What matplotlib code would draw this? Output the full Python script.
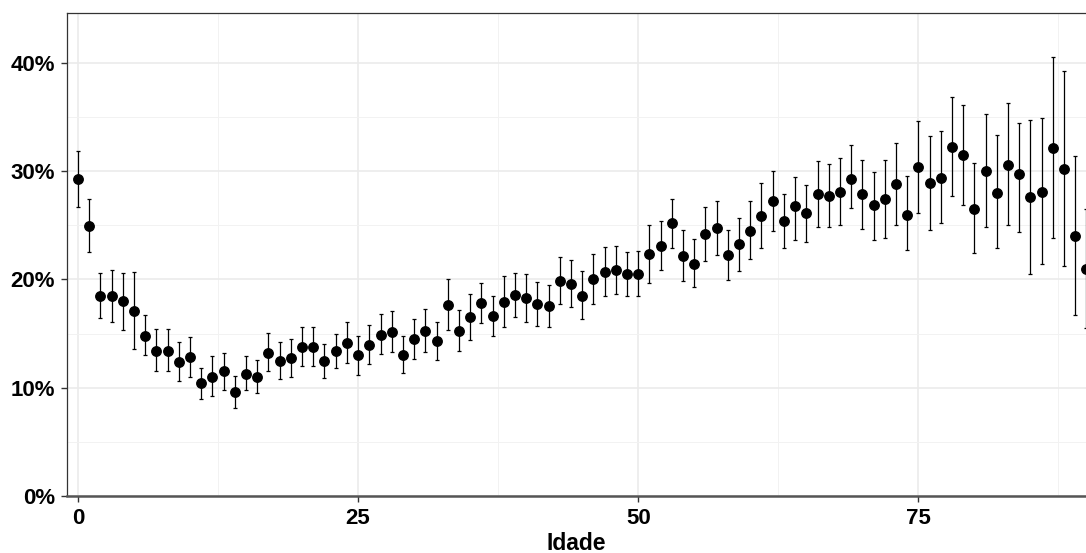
import numpy as np
import matplotlib.pyplot as plt
from matplotlib.ticker import FuncFormatter, MultipleLocator

# Proportion (%) by age, with lower / upper interval bounds
idade = list(range(0, 91))
prop = [29.3, 24.96, 18.45, 18.45, 18.0, 17.1, 14.8, 13.4, 13.4, 12.4,
        12.8, 10.4, 11.0, 11.5, 9.6, 11.3, 11.0, 13.2, 12.46, 12.7,
        13.72, 13.78, 12.45, 13.37, 14.14, 13.04, 13.9, 14.9, 15.1, 13.05,
        14.46, 15.26, 14.27, 17.66, 15.26, 16.5, 17.8, 16.6, 17.96, 18.55,
        18.27, 17.72, 17.5, 19.88, 19.57, 18.5, 20.03, 20.67, 20.83, 20.5,
        20.5, 22.34, 23.08, 25.17, 22.18, 21.44, 24.15, 24.74, 22.23, 23.25,
        24.49, 25.84, 27.23, 25.4, 26.8, 26.15, 27.85, 27.73, 28.1, 29.23,
        27.85, 26.9, 27.4, 28.77, 25.97, 30.37, 28.9, 29.4, 32.25, 31.45,
        26.53, 30.04, 28.0, 30.6, 29.7, 27.6, 28.1, 32.1, 30.2, 24.03,
        21.0]
lower = [26.7, 22.5, 16.4, 16.1, 15.35, 13.6, 13.0, 11.5, 11.5, 10.65,
         10.98, 9.0, 9.2, 9.8, 8.1, 9.8, 9.5, 11.5, 10.83, 10.97,
         12.0, 11.97, 10.9, 11.8, 12.3, 11.2, 12.17, 13.08, 13.3, 11.4,
         12.67, 13.32, 12.58, 15.33, 13.4, 14.43, 16.0, 14.8, 15.56, 16.56,
         16.08, 15.72, 15.6, 17.77, 17.44, 16.33, 17.77, 18.49, 18.67, 18.49,
         18.43, 19.69, 20.83, 22.9, 19.82, 19.3, 21.7, 22.23, 19.93, 20.8,
         21.9, 22.86, 24.5, 22.89, 23.6, 23.5, 24.86, 24.86, 25.0, 26.6,
         24.7, 23.6, 23.8, 25.04, 22.7, 26.15, 24.59, 25.17, 27.69, 26.83,
         22.4, 24.8, 22.87, 25.05, 24.34, 20.53, 21.45, 23.78, 21.26, 16.75,
         15.5]
upper = [31.9, 27.4, 20.6, 20.9, 20.6, 20.7, 16.7, 15.4, 15.4, 14.2,
         14.7, 11.8, 12.96, 13.25, 11.1, 12.9, 12.6, 15.07, 14.2, 14.5,
         15.6, 15.64, 14.0, 15.0, 16.09, 14.8, 15.8, 16.83, 17.1, 14.8,
         16.3, 17.26, 16.06, 20.0, 17.16, 18.68, 19.7, 18.5, 20.36, 20.6,
         20.46, 19.79, 19.45, 22.1, 21.82, 20.76, 22.34, 22.98, 23.1, 22.56,
         22.65, 25.05, 25.4, 27.45, 24.58, 23.7, 26.7, 27.2, 24.58, 25.67,
         27.2, 28.89, 30.0, 27.9, 29.45, 28.74, 30.9, 30.62, 31.2, 32.4,
         31.05, 29.9, 31.0, 32.6, 29.53, 34.6, 33.2, 33.7, 36.83, 36.1,
         30.77, 35.3, 33.3, 36.28, 34.43, 34.7, 34.93, 40.56, 39.2, 31.4,
         26.5]

x = np.array(idade)
y = np.array(prop) / 100
yerr = np.array([y - np.array(lower) / 100, np.array(upper) / 100 - y])

plt.rcParams['font.family'] = ['Liberation Sans', 'DejaVu Sans']

fig = plt.figure(figsize=(10.86, 5.53), dpi=100)
ax = fig.add_axes([67 / 1086, 57 / 553, 1 - 67 / 1086, 483 / 553])

ax.errorbar(x, y, yerr=yerr, fmt='o', color='black', ms=6.8,
            ecolor='black', elinewidth=0.9, capsize=1.2, capthick=0.9,
            zorder=3)

ax.set_xlim(-0.98, 89.96)
ax.set_ylim(0, 0.446)

ax.xaxis.set_major_locator(MultipleLocator(25))
ax.xaxis.set_minor_locator(MultipleLocator(12.5))
ax.yaxis.set_major_locator(MultipleLocator(0.10))
ax.yaxis.set_minor_locator(MultipleLocator(0.05))
ax.yaxis.set_major_formatter(FuncFormatter(lambda v, p: f'{v * 100:.0f}%'))

ax.grid(which='major', color='#ebebeb', lw=1.2, zorder=0)
ax.grid(which='minor', color='#f2f2f2', lw=0.7, zorder=0)
ax.set_axisbelow(True)

for s in ['left', 'top']:
    ax.spines[s].set_color('#333333')
    ax.spines[s].set_linewidth(0.9)
ax.spines['bottom'].set_color('#555555')
ax.spines['bottom'].set_linewidth(1.8)
ax.spines['right'].set_visible(False)

ax.tick_params(which='major', length=4, width=1, color='#333333',
               labelsize=16, pad=4.5)
ax.tick_params(which='minor', length=0)
for lab in ax.get_xticklabels() + ax.get_yticklabels():
    lab.set_fontweight('bold')

ax.set_xlabel('Idade', fontsize=16.5, fontweight='bold', labelpad=2)

plt.savefig('out.png', dpi=100)
